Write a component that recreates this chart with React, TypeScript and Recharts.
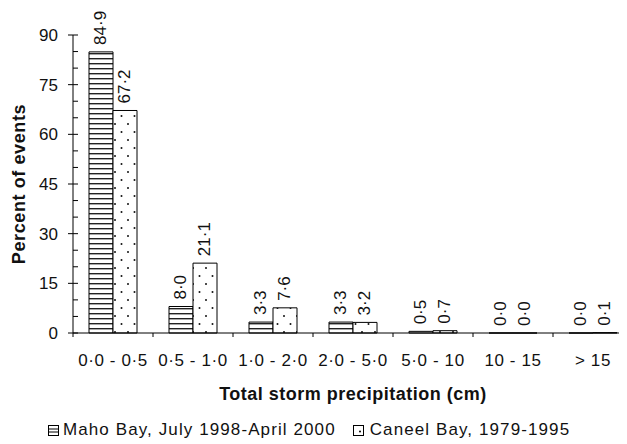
import React from 'react';
import { BarChart, Bar, XAxis, YAxis, Legend, LabelList } from 'recharts';

const categories = ['0·0 - 0·5', '0·5 - 1·0', '1·0 - 2·0', '2·0 - 5·0', '5·0 - 10', '10 - 15', '> 15'];
const maho = [84.9, 8.0, 3.3, 3.3, 0.5, 0.0, 0.0];
const caneel = [67.2, 21.1, 7.6, 3.2, 0.7, 0.0, 0.1];
const yTicks = [0, 5, 10, 15, 20, 25, 30, 35, 40, 45, 50, 55, 60, 65, 70, 75, 80, 85, 90];
const seriesNames = ['Maho Bay, July 1998-April 2000', 'Caneel Bay, 1979-1995'];

const data = categories.map((c, i) => ({ cat: c, maho: maho[i], caneel: caneel[i] }));

const FONT = '"Liberation Sans", Arial, Helvetica, sans-serif';

const fmt = (v: number) => v.toFixed(1).replace('.', '·');

const YTick = (props: any) => {
  const { x, y, payload } = props;
  const v = payload.value as number;
  const major = v % 15 === 0;
  return (
    <g>
      <line x1={major ? x - 5 : x} x2={x + 5} y1={y} y2={y} stroke="#000" strokeWidth={1} />
      {major && (
        <text x={x - 15} y={y} dy="0.36em" textAnchor="end" fontSize={17} fill="#111" fontFamily={FONT}>
          {v}
        </text>
      )}
    </g>
  );
};

const XTick = (props: any) => {
  const { x, y, payload } = props;
  const half = payload.offset ?? 40;
  return (
    <g>
      <line x1={x - half} x2={x - half} y1={y} y2={y + 4} stroke="#000" strokeWidth={1} />
      <text x={x} y={y + 33} textAnchor="middle" fontSize={17} fill="#111" fontFamily={FONT} style={{ letterSpacing: '0.6px' }}>
        {payload.value}
      </text>
    </g>
  );
};

const ValueLabel = (props: any) => {
  const { x, y, width, value } = props;
  const cx = x + width / 2;
  const cy = y - 7;
  return (
    <text
      x={cx}
      y={cy}
      transform={`rotate(-90, ${cx}, ${cy})`}
      textAnchor="start"
      dominantBaseline="central"
      fontSize={17}
      fill="#111"
      fontFamily={FONT}
    >
      {fmt(Number(value))}
    </text>
  );
};

const YTitle = (props: any) => {
  const vb = props.viewBox || { x: 0, y: 27, width: 65, height: 298 };
  const cx = vb.x + 17;
  const cy = vb.y + vb.height / 2;
  return (
    <text
      x={cx}
      y={cy}
      transform={`rotate(-90, ${cx}, ${cy})`}
      textAnchor="middle"
      fontSize={18}
      fontWeight="bold"
      fill="#111"
      fontFamily={FONT}
      style={{ letterSpacing: '0.6px' }}
    >
      Percent of events
    </text>
  );
};

const LegendContent = () => (
  <div
    style={{
      display: 'flex',
      alignItems: 'center',
      height: 30,
      fontFamily: FONT,
      fontSize: 17,
      letterSpacing: '1.1px',
      color: '#111',
      whiteSpace: 'nowrap',
    }}
  >
    <svg width={11} height={11} style={{ marginRight: 4 }}>
      <rect x={0.5} y={0.5} width={10} height={10} fill="#fff" stroke="#000" />
      <line x1={0.5} x2={10.5} y1={4} y2={4} stroke="#000" />
      <line x1={0.5} x2={10.5} y1={7} y2={7} stroke="#000" />
    </svg>
    <span>{seriesNames[0]}</span>
    <svg width={11} height={11} style={{ marginLeft: 17, marginRight: 6 }}>
      <rect x={0.5} y={0.5} width={10} height={10} fill="#fff" stroke="#000" />
      <circle cx={7} cy={6.5} r={1} fill="#000" />
    </svg>
    <span>{seriesNames[1]}</span>
  </div>
);

export default function App() {
  return (
    <div style={{ width: 619, height: 436, overflow: 'hidden', background: '#fff' }}>
      <BarChart
        width={640}
        height={436}
        data={data}
        margin={{ top: 27, right: 15, left: 0, bottom: 0 }}
        barCategoryGap="20%"
        barGap={0}
      >
        <defs>
          <pattern id="stripes" patternUnits="userSpaceOnUse" width={6} height={5}>
            <rect x={0} y={0} width={6} height={5} fill="#fff" />
            <rect x={0} y={0} width={6} height={1.4} fill="#222" />
          </pattern>
          <pattern id="dots" patternUnits="userSpaceOnUse" width={13} height={16}>
            <rect x={0} y={0} width={13} height={16} fill="#fff" />
            <circle cx={3} cy={4} r={1} fill="#111" />
            <circle cx={9.5} cy={12} r={1} fill="#111" />
          </pattern>
        </defs>
        <XAxis
          dataKey="cat"
          height={81}
          interval={0}
          tickLine={false}
          tickSize={0}
          tickMargin={0}
          axisLine={{ stroke: '#000', strokeWidth: 1 }}
          tick={<XTick />}
          label={{
            value: 'Total storm precipitation (cm)',
            position: 'insideBottom',
            offset: 14,
            style: { fontSize: 18, fontWeight: 'bold', fill: '#111', fontFamily: FONT, letterSpacing: '0.5px' },
          }}
        />
        <YAxis
          width={65}
          domain={[0, 90]}
          ticks={yTicks}
          interval={0}
          tickLine={false}
          tickSize={0}
          tickMargin={0}
          axisLine={{ stroke: '#000', strokeWidth: 1 }}
          tick={<YTick />}
          label={{ content: <YTitle /> }}
        />
        <Legend
          content={<LegendContent />}
          wrapperStyle={{ top: 407, left: 40, height: 30, width: 600 }}
        />
        <Bar dataKey="maho" name={seriesNames[0]} fill="url(#stripes)" stroke="#000" strokeWidth={1} minPointSize={0.01} isAnimationActive={false}>
          <LabelList dataKey="maho" content={<ValueLabel />} />
        </Bar>
        <Bar dataKey="caneel" name={seriesNames[1]} fill="url(#dots)" stroke="#000" strokeWidth={1} minPointSize={0.01} isAnimationActive={false}>
          <LabelList dataKey="caneel" content={<ValueLabel />} />
        </Bar>
      </BarChart>
    </div>
  );
}
